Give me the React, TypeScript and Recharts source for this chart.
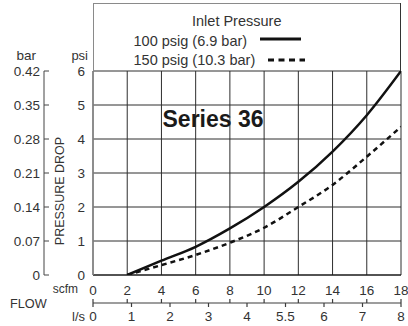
import React from 'react';
import { LineChart, Line, XAxis, YAxis, CartesianGrid, Legend } from 'recharts';

// ---- data ----
const SCFM = [2, 4, 6, 8, 10, 12, 14, 16, 18];
const P100 = [0, 0.42, 0.83, 1.37, 2.0, 2.74, 3.63, 4.7, 6.0];
const P150 = [0, 0.29, 0.59, 0.95, 1.39, 2.0, 2.65, 3.48, 4.36];
const SERIES_NAMES = ['100 psig (6.9 bar)', '150 psig (10.3 bar)'];
const LEGEND_TITLE = 'Inlet Pressure';
const CHART_TITLE = 'Series 36';

const SCFM_TICKS = [0, 2, 4, 6, 8, 10, 12, 14, 16, 18];
const PSI_TICKS = [0, 1, 2, 3, 4, 5, 6];
const BAR_TICKS = [0, 0.07, 0.14, 0.21, 0.28, 0.35, 0.42];
const LS_TICKS = [0, 1, 2, 3, 4, 5, 6, 7, 8];
const LS_TICK_LABELS = ['0', '1', '2', '3', '4', '5.5', '6', '7', '8'];
const SCFM_PER_LS = 2.119;

const data = SCFM.map((s, i) => ({ scfm: s, p100: P100[i], p150: P150[i] }));

// ---- styling ----
const FONT = "'Liberation Sans', Arial, Helvetica, sans-serif";
const TXT = '#333';
const GRID = '#2e2e2e';
const FRAME_GRAY = '#8a8a8a';
const FLOW_AXIS = '#3c3c3c';
const TICK_FS = 13.5;

const W = 408;
const H = 326;
const MARGIN = { top: 71, right: 7, bottom: 0, left: 0 };
const PSI_W = 49;
const BAR_W = 44;
const SCFM_H = 28;
const LS_H = 23;
const SCFM_TICK_MARGIN = 10;
const BAR_TICK_MARGIN = 4;

const X_SCFM = 'a_scfm';
const X_LS = 'b_ls';
const Y_PSI = 'a_psi';
const Y_BAR = 'b_bar';

const ScfmTick = (props: any) => {
  const { x, y, payload } = props;
  const lineBottom = y + SCFM_H - SCFM_TICK_MARGIN;
  return (
    <g>
      <text x={x} y={y} dy="0.71em" textAnchor="middle" fontSize={TICK_FS} fill={TXT}>
        {payload.value}
      </text>
      <line x1={x} x2={x} y1={lineBottom - 4} y2={lineBottom} stroke={FLOW_AXIS} strokeWidth={1.2} />
    </g>
  );
};

const BarTick = (props: any) => {
  const { x, y, payload } = props;
  const ax = x + BAR_TICK_MARGIN;
  return (
    <g>
      <text x={x} y={y} dy="0.355em" textAnchor="end" fontSize={TICK_FS} fill={TXT}>
        {String(payload.value)}
      </text>
      <line x1={ax} x2={ax + 5} y1={y} y2={y} stroke="#444" strokeWidth={1} />
    </g>
  );
};

const psiLabel = (props: any) => {
  const vb = props.viewBox || {};
  const { x = 0, y = 0, width = 0, height = 0 } = vb;
  const cx = x + 20;
  const cy = y + height / 2 + 18;
  return (
    <g>
      <text x={x + width - 5} y={y - 11} textAnchor="end" fontSize={13} fill={TXT}>
        psi
      </text>
      <text
        x={cx}
        y={cy}
        transform={`rotate(-90 ${cx} ${cy})`}
        textAnchor="middle"
        fontSize={12.5}
        fill={TXT}
      >
        PRESSURE DROP
      </text>
    </g>
  );
};

const barLabel = (props: any) => {
  const vb = props.viewBox || {};
  const { x = 0, y = 0, height = 0 } = vb;
  return (
    <g>
      <text x={x + 16.5} y={y - 11} textAnchor="start" fontSize={13.5} fill={TXT}>
        bar
      </text>
      <text x={x + 10} y={y + height + 32.5} textAnchor="start" fontSize={12.7} fill={TXT}>
        FLOW
      </text>
    </g>
  );
};

const scfmLabel = (props: any) => {
  const vb = props.viewBox || {};
  const { x = 0, y = 0 } = vb;
  return (
    <text x={x - 15} y={y + 18.3} textAnchor="end" fontSize={12} fill={TXT}>
      scfm
    </text>
  );
};

const lsLabel = (props: any) => {
  const vb = props.viewBox || {};
  const { x = 0, y = 0 } = vb;
  return (
    <text x={x - 8} y={y + 18} textAnchor="end" fontSize={13} fill={TXT}>
      l/s
    </text>
  );
};

const LEG_W = 308;
const LEG_H = 68;

const LegendBox = (props: any) => {
  const payload = props.payload || [];
  const names = payload.length ? payload.map((p: any) => p.value) : SERIES_NAMES;
  return (
    <svg width={LEG_W} height={LEG_H} style={{ display: 'block', overflow: 'visible' }}>
      <line x1={0.5} x2={0.5} y1={0} y2={LEG_H} stroke={FRAME_GRAY} strokeWidth={1} />
      <line x1={0} x2={LEG_W} y1={0.5} y2={0.5} stroke={FRAME_GRAY} strokeWidth={1} />
      <line x1={LEG_W - 0.5} x2={LEG_W - 0.5} y1={0} y2={LEG_H} stroke="#333" strokeWidth={1} />
      <text x={99} y={23} fontSize={14.5} fill={TXT}>
        {LEGEND_TITLE}
      </text>
      <text x={40.5} y={43} fontSize={14.5} fill={TXT}>
        {names[0]}
      </text>
      <line x1={167} x2={208} y1={36} y2={36} stroke="#111" strokeWidth={3} />
      <text x={40.5} y={62} fontSize={14.5} fill={TXT}>
        {names[1]}
      </text>
      <line x1={175} x2={212} y1={57} y2={57} stroke="#111" strokeWidth={3} strokeDasharray="6 4.5" />
    </svg>
  );
};

export default function App() {
  return (
    <div style={{ position: 'absolute', left: 0, top: 0, width: W, height: H, fontFamily: FONT, background: '#fff' }}>
      <LineChart width={W} height={H} data={data} margin={MARGIN} style={{ fontFamily: FONT }}>
        <CartesianGrid xAxisId={X_SCFM} yAxisId={Y_PSI} stroke={GRID} strokeWidth={1} />
        <XAxis
          xAxisId={X_SCFM}
          dataKey="scfm"
          type="number"
          domain={[0, 18]}
          ticks={SCFM_TICKS}
          interval={0}
          height={SCFM_H}
          axisLine={{ stroke: '#111', strokeWidth: 1.2 }}
          tickLine={false}
          tickSize={0}
          tickMargin={SCFM_TICK_MARGIN}
          tick={<ScfmTick />}
          label={scfmLabel}
          allowDataOverflow
        />
        <XAxis
          xAxisId={X_LS}
          type="number"
          domain={[0, 18 / SCFM_PER_LS]}
          ticks={LS_TICKS}
          interval={0}
          height={LS_H}
          axisLine={{ stroke: FLOW_AXIS, strokeWidth: 1.2 }}
          tickLine={{ stroke: FLOW_AXIS, strokeWidth: 1.2 }}
          tickSize={4}
          tickMargin={4}
          tick={{ fontSize: TICK_FS, fill: TXT }}
          tickFormatter={(v: any, i: number) => LS_TICK_LABELS[i] ?? String(v)}
          label={lsLabel}
          allowDataOverflow
        />
        <YAxis
          yAxisId={Y_PSI}
          type="number"
          domain={[0, 6]}
          ticks={PSI_TICKS}
          interval={0}
          width={PSI_W}
          axisLine={{ stroke: FRAME_GRAY, strokeWidth: 1.5 }}
          tickLine={false}
          tickSize={0}
          tickMargin={8}
          tick={{ fontSize: TICK_FS, fill: TXT }}
          label={psiLabel}
          allowDataOverflow
        />
        <YAxis
          yAxisId={Y_BAR}
          type="number"
          domain={[0, 0.42]}
          ticks={BAR_TICKS}
          interval={0}
          width={BAR_W}
          axisLine={{ stroke: '#444', strokeWidth: 1 }}
          tickLine={false}
          tickSize={0}
          tickMargin={BAR_TICK_MARGIN}
          tick={<BarTick />}
          label={barLabel}
          allowDataOverflow
        />
        <Legend
          layout="vertical"
          align="center"
          verticalAlign="middle"
          content={<LegendBox />}
          wrapperStyle={{ position: 'absolute', left: 93, top: 3, width: LEG_W, height: LEG_H, margin: 0, padding: 0 }}
        />
        <Line
          xAxisId={X_SCFM}
          yAxisId={Y_PSI}
          type="monotone"
          dataKey="p100"
          name={SERIES_NAMES[0]}
          stroke="#111"
          strokeWidth={2.5}
          dot={false}
          activeDot={false}
          isAnimationActive={false}
        />
        <Line
          xAxisId={X_SCFM}
          yAxisId={Y_PSI}
          type="monotone"
          dataKey="p150"
          name={SERIES_NAMES[1]}
          stroke="#111"
          strokeWidth={2.5}
          strokeDasharray="5 4"
          dot={false}
          activeDot={false}
          isAnimationActive={false}
        />
        <text x={162.5} y={126.7} fontSize={23} fontWeight="bold" fill="#1a1a1a" fontFamily={FONT}>
          {CHART_TITLE}
        </text>
      </LineChart>
    </div>
  );
}
